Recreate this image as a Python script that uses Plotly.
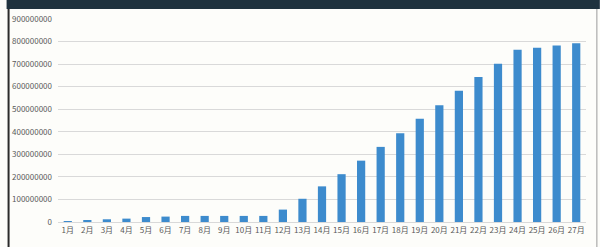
import plotly.graph_objects as go

months = [f"{i}月" for i in range(1, 28)]
values = [2e6, 5e6, 12e6, 15e6, 22e6, 24e6, 27e6, 27e6, 27e6, 27e6, 27e6, 55e6,
          103e6, 158e6, 212e6, 272e6, 333e6, 393e6, 458e6, 518e6, 582e6, 643e6,
          702e6, 764e6, 773e6, 782e6, 792e6]
yticks = [i * 100000000 for i in range(10)]

fig = go.Figure(go.Bar(x=months, y=values, marker_color="#3d8bcd", marker_line_width=0))

L, R, T, B = 52, 14, 19, 25
PW, PH = 600 - L - R, 247 - T - B

fig.update_layout(
    width=600, height=247,
    margin=dict(l=L, r=R, t=T, b=B),
    paper_bgcolor="#fdfdfa", plot_bgcolor="#fdfdfa",
    bargap=0.58, showlegend=False,
    font=dict(family="Noto Sans CJK SC, DejaVu Sans", size=8, color="#595959"),
    xaxis=dict(showgrid=False, showline=True, linecolor="#d9d9d9", linewidth=1,
               ticks="", tickfont=dict(size=8), range=[-0.5, 26.5]),
    yaxis=dict(range=[0, 900000000], tickvals=yticks, ticktext=[str(v) for v in yticks],
               showgrid=True, gridcolor="#d9d9d9", gridwidth=1, zeroline=False,
               showline=False, ticks="", ticklabelstandoff=5, tickfont=dict(size=8)),
    shapes=[
        dict(type="rect", xref="paper", yref="paper", x0=-L/PW, x1=1+R/PW,
             y0=1+10/PH, y1=1+T/PH, fillcolor="#1f323e", line_width=0, layer="above"),
        dict(type="line", xref="paper", yref="paper", x0=-(L-2)/PW, x1=-(L-2)/PW,
             y0=-B/PH, y1=1+10/PH, line=dict(color="#2a2a2a", width=2)),
        dict(type="line", xref="paper", yref="paper", x0=1+(R-3)/PW, x1=1+(R-3)/PW,
             y0=-B/PH, y1=1+10/PH, line=dict(color="#9a9a9a", width=1)),
    ],
)

fig.write_html("out.html")
